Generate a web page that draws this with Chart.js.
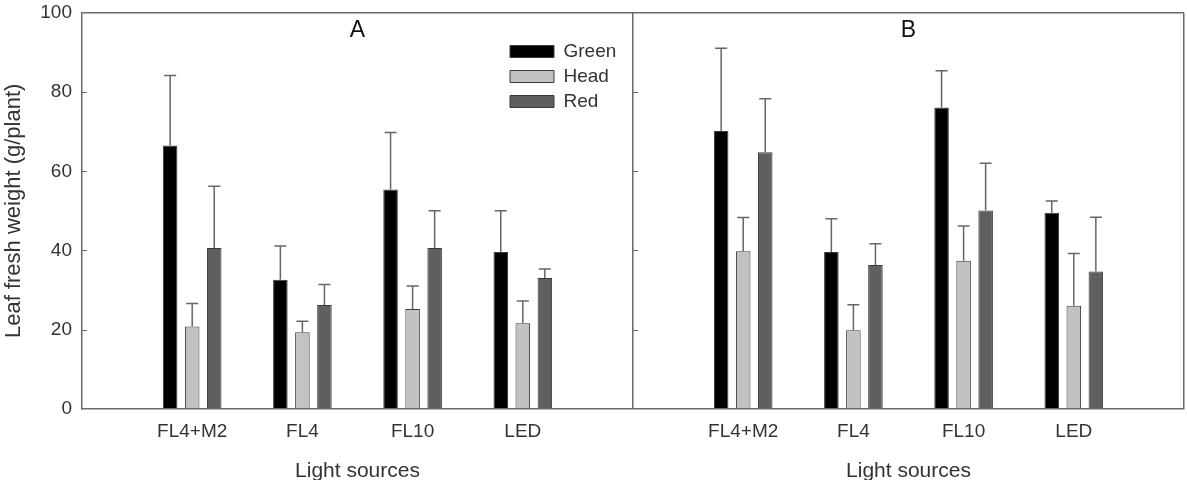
<!DOCTYPE html>
<html>
<head>
<meta charset="utf-8">
<script src="https://cdn.jsdelivr.net/npm/chart.js@4.4.1/dist/chart.umd.min.js"></script>
<style>
  html, body { margin: 0; padding: 0; background: #fff; }
  #wrap { width: 1187px; height: 480px; position: relative; }
</style>
</head>
<body>
<div id="wrap"><canvas id="c"></canvas></div>
<script>
// ---- data ----
const lightSources = ['FL4+M2', 'FL4', 'FL10', 'LED'];
const panelLabels = ['A', 'B'];
const xAxisTitle = 'Light sources';
const yAxisTitle = 'Leaf fresh weight (g/plant)';
const yTicks = [0, 20, 40, 60, 80, 100];

const greenA = [66.5, 32.6, 55.4, 39.6];
const headA  = [20.8, 19.3, 25.2, 21.6];
const redA   = [40.6, 26.2, 40.6, 33.0];
const greenErrA = [17.7, 8.5, 14.4, 10.4];
const headErrA  = [5.8, 2.8, 5.8, 5.6];
const redErrA   = [15.6, 5.2, 9.4, 2.3];

const greenB = [70.2, 39.6, 76.1, 49.5];
const headB  = [39.8, 19.8, 37.4, 26.0];
const redB   = [64.8, 36.3, 50.1, 34.7];
const greenErrB = [20.9, 8.4, 9.3, 3.0];
const headErrB  = [8.5, 6.5, 8.8, 13.2];
const redErrB   = [13.5, 5.4, 11.9, 13.7];

// ---- build category layout: [gap, A..., gap, B..., gap] ----
const labels = ['', ...lightSources, '', ...lightSources, ''];
const join = (a, b) => [null, ...a, null, ...b, null];

const FONT = '"Liberation Sans", Arial, sans-serif';
const TXT = '#333333';
const AX = '#6a6a6a';

const datasets = [
  { label: 'Green', data: join(greenA, greenB), err: join(greenErrA, greenErrB), backgroundColor: '#000000' },
  { label: 'Head',  data: join(headA, headB),   err: join(headErrA, headErrB),   backgroundColor: '#c2c2c2' },
  { label: 'Red',   data: join(redA, redB),     err: join(redErrA, redErrB),     backgroundColor: '#5f5f5f' }
].map(d => Object.assign(d, { borderColor: '#3a3a3a', borderWidth: 1, categoryPercentage: 0.6, barPercentage: 0.66 }));

const errorBars = {
  id: 'errorBars',
  afterDatasetsDraw(chart) {
    const ctx = chart.ctx, ys = chart.scales.y;
    ctx.save();
    ctx.strokeStyle = '#666';
    ctx.lineWidth = 1.5;
    chart.data.datasets.forEach((ds, i) => {
      const meta = chart.getDatasetMeta(i);
      meta.data.forEach((el, j) => {
        const v = ds.data[j], e = ds.err[j];
        if (v == null || e == null) return;
        const yt = ys.getPixelForValue(v + e);
        ctx.beginPath();
        ctx.moveTo(el.x, el.y);
        ctx.lineTo(el.x, yt);
        ctx.moveTo(el.x - 6, yt);
        ctx.lineTo(el.x + 6, yt);
        ctx.stroke();
      });
    });
    ctx.restore();
  }
};

const decorations = {
  id: 'decorations',
  afterLayout(chart) {
    const lg = chart.legend;
    if (!lg) return;
    const w = lg.width, h = lg.height;
    lg.left = 504; lg.top = 36; lg.right = lg.left + w; lg.bottom = lg.top + h;
  },
  afterDraw(chart) {
    const ctx = chart.ctx, xs = chart.scales.x, ys = chart.scales.y;
    ctx.save();
    // inward tick marks on left axis and panel divider
    ctx.strokeStyle = AX; ctx.lineWidth = 1;
    [chart.chartArea.left, xs.getPixelForValue(5)].forEach(x0 => {
      yTicks.forEach(t => {
        if (t === 0 || t === 100) return;
        const y = Math.round(ys.getPixelForValue(t)) + 0.5;
        ctx.beginPath(); ctx.moveTo(x0, y); ctx.lineTo(x0 + 5, y); ctx.stroke();
      });
    });
    // panel letters
    ctx.fillStyle = '#111';
    ctx.font = '23px ' + FONT;
    ctx.textAlign = 'center'; ctx.textBaseline = 'middle';
    ctx.fillText(panelLabels[0], xs.getPixelForValue(2.5), 31);
    ctx.fillText(panelLabels[1], xs.getPixelForValue(7.5), 31);
    ctx.restore();
  }
};

new Chart(document.getElementById('c'), {
  type: 'bar',
  data: { labels, datasets },
  options: {
    responsive: true,
    maintainAspectRatio: false,
    animation: false,
    devicePixelRatio: 1,
    layout: { padding: { left: 0, right: 3, top: 13, bottom: 0 } },
    plugins: {
      tooltip: { enabled: false },
      legend: {
        position: 'chartArea',
        align: 'start',
        labels: { boxWidth: 44, boxHeight: 12, padding: 6, color: TXT, font: { family: FONT, size: 19 } }
      }
    },
    scales: {
      x: {
        type: 'category',
        offset: false,
        grid: {
          offset: false,
          drawTicks: false,
          lineWidth: 1.5,
          color: c => (c.index === 5 || c.index === 10) ? AX : 'rgba(0,0,0,0)'
        },
        border: { color: AX, width: 1.5 },
        ticks: { autoSkip: false, maxRotation: 0, padding: 12, color: TXT, font: { family: FONT, size: 19 } },
        afterFit: s => { s.height = 33; s.paddingLeft = 0; s.paddingRight = 0; }
      },
      x2: {
        type: 'linear',
        position: 'bottom',
        offset: false,
        min: 0, max: 10,
        grid: { display: false, drawTicks: false, offset: false },
        border: { display: false },
        afterBuildTicks: s => { s.ticks = [{ value: 2.5 }, { value: 7.5 }]; },
        ticks: { padding: 17, color: TXT, font: { family: FONT, size: 21 }, callback: () => xAxisTitle },
        afterFit: s => { s.height = 38.3; s.paddingLeft = 0; s.paddingRight = 0; }
      },
      y: {
        min: 0, max: 100,
        afterBuildTicks: s => { s.ticks = yTicks.map(v => ({ value: v })); },
        grid: {
          drawTicks: false,
          lineWidth: 1.5,
          color: c => (c.tick && c.tick.value === 100) ? AX : 'rgba(0,0,0,0)'
        },
        border: { color: AX, width: 1.5 },
        ticks: { padding: 10, color: TXT, font: { family: FONT, size: 19 } },
        title: { display: true, text: yAxisTitle, color: TXT, font: { family: FONT, size: 22 }, padding: { top: 1, bottom: 2 } },
        afterFit: s => { s.width = 82; s.paddingTop = 0; s.paddingBottom = 0; }
      }
    }
  },
  plugins: [errorBars, decorations]
});
</script>
</body>
</html>
